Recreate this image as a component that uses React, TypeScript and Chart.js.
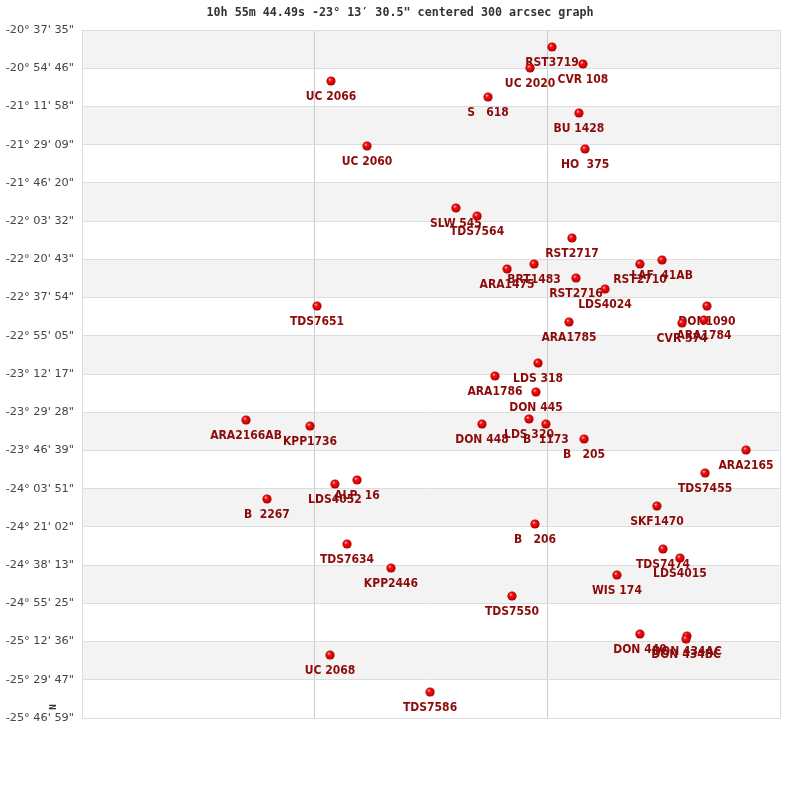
import React, { useEffect, useRef } from "react";
import { Chart, registerables } from "chart.js";

Chart.register(...registerables);

const chartTitle = '10h 55m 44.49s -23° 13′ 30.5" centered 300 arcsec graph';

const tickLabels = [
  '-20° 37\' 35"', '-20° 54\' 46"', '-21° 11\' 58"', '-21° 29\' 09"', '-21° 46\' 20"',
  '-22° 03\' 32"', '-22° 20\' 43"', '-22° 37\' 54"', '-22° 55\' 05"', '-23° 12\' 17"',
  '-23° 29\' 28"', '-23° 46\' 39"', '-24° 03\' 51"', '-24° 21\' 02"', '-24° 38\' 13"',
  '-24° 55\' 25"', '-25° 12\' 36"', '-25° 29\' 47"', '-25° 46\' 59"',
];

const starNames = [
  "RST3719", "CVR 108", "UC 2020", "UC 2066", "S   618", "BU 1428", "UC 2060", "HO  375",
  "SLW 545", "TDS7564", "RST2717", "ARA1475", "BRT1483", "RST2716", "LDS4024", "RST2710",
  "LAF  41AB", "TDS7651", "ARA1785", "DON1090", "ARA1784", "CVR 574", "LDS 318", "ARA1786",
  "DON 445", "DON 448", "LDS 320", "B  1173", "B   205", "ARA2165", "TDS7455", "ARA2166AB",
  "KPP1736", "LDS4052", "ALP  16", "B  2267", "TDS7634", "KPP2446", "SKF1470", "TDS7474",
  "LDS4015", "WIS 174", "DON 440", "DON 434AC", "DON 434BC", "UC 2068", "TDS7550", "TDS7586",
  "B   206",
];

// horizontal position inside the 300 arcsec field
const raOffsets = [
  202.0, 215.3, 192.6, 107.0, 174.5, 213.6, 122.5, 216.2,
  160.7, 169.8, 210.6, 182.7, 194.3, 212.3, 224.8, 239.8,
  249.3, 101.0, 209.3, 268.6, 267.3, 257.9, 196.0, 177.5,
  195.1, 171.9, 192.1, 199.4, 215.8, 285.4, 267.8, 70.5,
  98.0, 108.7, 118.2, 79.5, 113.9, 132.8, 247.1, 249.7,
  257.0, 229.9, 239.8, 260.0, 259.6, 106.6, 184.8, 149.6,
  194.7,
];

// declination in degrees
const decValues = [
  -20.7538, -20.8812, -20.9112, -21.0087, -21.1286, -21.2485, -21.4958, -21.5183,
  -21.9605, -22.0205, -22.1854, -22.4177, -22.3803, -22.4852, -22.5677, -22.3803,
  -22.3503, -22.6951, -22.8150, -22.6951, -22.8000, -22.8225, -23.1223, -23.2197,
  -23.3397, -23.5795, -23.5420, -23.5795, -23.6919, -23.7744, -23.9468, -23.5495,
  -23.5945, -24.0292, -23.9992, -24.1416, -24.4789, -24.6588, -24.1941, -24.5164,
  -24.5839, -24.7113, -25.1535, -25.1685, -25.1910, -25.3109, -24.8687, -25.5882,
  -24.3290,
];

const xTicks = [0, 100, 200, 300];

function dmsToDeg(s: string): number {
  const m = s.match(/(-?)(\d+)°\s*(\d+)'\s*(\d+)"/);
  if (!m) return 0;
  const v = Number(m[2]) + Number(m[3]) / 60 + Number(m[4]) / 3600;
  return m[1] ? -v : v;
}

const tickDeg = tickLabels.map(dmsToDeg);

const LABEL_FONT = 'bold 12px "DejaVu Sans Condensed", "Liberation Sans Narrow", "DejaVu Sans", sans-serif';

function makeDot(): HTMLCanvasElement {
  const c = document.createElement("canvas");
  c.width = 10;
  c.height = 10;
  const ctx = c.getContext("2d")!;
  const g = ctx.createRadialGradient(3.6, 3.4, 0.3, 5, 5, 5);
  g.addColorStop(0, "#ffb0b0");
  g.addColorStop(0.3, "#f41010");
  g.addColorStop(0.75, "#cc0000");
  g.addColorStop(1, "#8a0000");
  ctx.fillStyle = g;
  ctx.beginPath();
  ctx.arc(5, 5, 4.6, 0, Math.PI * 2);
  ctx.fill();
  return c;
}

const bandsPlugin = {
  id: "bands",
  beforeDraw(chart: any) {
    const { ctx, chartArea } = chart;
    const y = chart.scales.y;
    ctx.save();
    ctx.fillStyle = "#f3f3f3";
    for (let i = 0; i < tickDeg.length - 1; i += 2) {
      const y0 = y.getPixelForValue(tickDeg[i]);
      const y1 = y.getPixelForValue(tickDeg[i + 1]);
      ctx.fillRect(chartArea.left, y0, chartArea.right - chartArea.left, y1 - y0);
    }
    ctx.restore();
  },
};

const labelsPlugin = {
  id: "starLabels",
  beforeDatasetsDraw(chart: any) {
    const { ctx } = chart;
    const meta = chart.getDatasetMeta(0);
    ctx.save();
    ctx.font = LABEL_FONT;
    ctx.fillStyle = "#8c0a0a";
    ctx.textAlign = "center";
    ctx.textBaseline = "middle";
    meta.data.forEach((el: any, i: number) => {
      ctx.fillText(starNames[i], el.x, el.y + 15.5);
    });
    ctx.restore();
  },
  afterDraw(chart: any) {
    const { ctx } = chart;
    ctx.save();
    // title, centred on the whole canvas
    ctx.font = 'bold 11.7px "DejaVu Sans Mono", monospace';
    ctx.fillStyle = "#333";
    ctx.textAlign = "center";
    ctx.textBaseline = "middle";
    ctx.fillText(chartTitle, chart.width / 2, 13);
    // north marker
    ctx.translate(54, 707);
    ctx.rotate(-Math.PI / 2);
    ctx.font = 'bold 9px "DejaVu Sans Mono", monospace';
    ctx.fillText("N", 0, 0);
    ctx.restore();
  },
};

export default function App() {
  const ref = useRef<HTMLCanvasElement | null>(null);

  useEffect(() => {
    if (!ref.current) return;
    const dot = makeDot();
    const chart = new Chart(ref.current, {
      type: "scatter",
      data: {
        datasets: [
          {
            data: raOffsets.map((x, i) => ({ x, y: decValues[i] })),
            pointStyle: dot as any,
            pointRadius: 5,
          },
        ],
      },
      options: {
        animation: false,
        responsive: false,
        devicePixelRatio: 1,
        layout: { padding: { left: 0, right: 20, top: 30, bottom: 82 } },
        plugins: {
          legend: { display: false },
          tooltip: { enabled: false },
          title: { display: false },
        },
        scales: {
          x: {
            type: "linear",
            min: 0,
            max: 300,
            afterBuildTicks: (s: any) => {
              s.ticks = xTicks.map((v) => ({ value: v }));
            },
            afterFit: (s: any) => {
              s.height = 0;
            },
            ticks: { display: false },
            grid: {
              color: (c: any) => (c.tick && (c.tick.value === 0 || c.tick.value === 300) ? "#dddddd" : "#cccccc"),
              drawTicks: false,
            },
            border: { display: true, color: "#dddddd" },
          },
          y: {
            type: "linear",
            min: tickDeg[tickDeg.length - 1],
            max: tickDeg[0],
            afterBuildTicks: (s: any) => {
              s.ticks = tickDeg.map((v) => ({ value: v }));
            },
            afterFit: (s: any) => {
              s.width = 82;
            },
            ticks: {
              padding: 8,
              color: "#444",
              font: { family: '"DejaVu Sans", sans-serif', size: 11.3 },
              callback: (value: any) => {
                const idx = tickDeg.findIndex((d) => Math.abs(d - Number(value)) < 1e-6);
                return idx >= 0 ? tickLabels[idx] : "";
              },
            },
            grid: { color: "#dddddd", drawTicks: false },
            border: { display: true, color: "#dddddd" },
          },
        },
      },
      plugins: [bandsPlugin, labelsPlugin],
    } as any);
    return () => chart.destroy();
  }, []);

  return (
    <div style={{ position: "fixed", left: 0, top: 0, width: 800, height: 800, background: "#fff" }}>
      <canvas ref={ref} width={800} height={800} style={{ width: 800, height: 800, display: "block" }} />
    </div>
  );
}
